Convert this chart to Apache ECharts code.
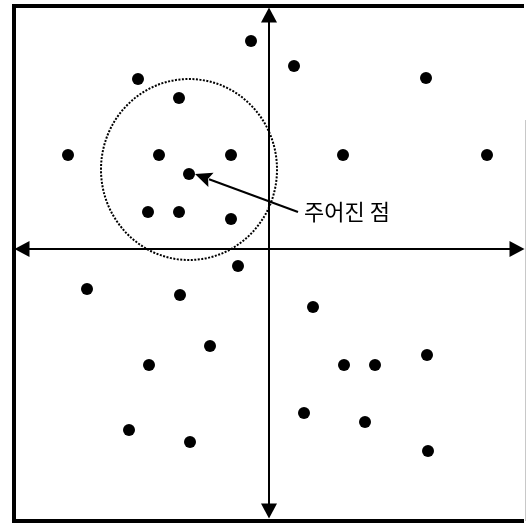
<!DOCTYPE html>
<html>
<head>
<meta charset="utf-8">
<script src="https://cdn.jsdelivr.net/npm/echarts@6/dist/echarts.min.js"></script>
<style>
  html, body { margin: 0; padding: 0; background: #fff; }
  #chart { width: 527px; height: 525px; }
</style>
</head>
<body>
<div id="chart"></div>
<script>
// points, origin where the axes cross, y up
const pointsX = [-18, 25, -131, 157, -90, -201, -110, -38, 74, 218, -80, -121, -90, -38,
  -31, -182, -89, 44, -59, -120, 75, 106, 158, 35, 96, -140, -79, 159];
const pointsY = [208, 183, 170, 171, 151, 94, 94, 94, 94, 94, 75, 37, 37, 30,
  -17, -40, -46, -58, -97, -116, -116, -116, -106, -164, -173, -181, -193, -202];

// dotted neighbourhood round the given point: centre x, centre y, radius x, radius y
const neighbourhood = [-80, 79.5, 88, 90.5];

// pointer from the label to the given point: from x, from y, to x, to y
const pointer = [29, 37, -74, 75];
const labelAt = [35, 37];
const labelText = '주어진 점';

const chart = echarts.init(document.getElementById('chart'));

const axisCommon = {
  type: 'value',
  axisLine: {
    onZero: true,
    symbol: ['triangle', 'triangle'],
    symbolSize: [16, 15],
    lineStyle: { color: '#000', width: 2 }
  },
  axisTick: { show: false },
  axisLabel: { show: false },
  splitLine: { show: false }
};

chart.setOption({
  animation: false,
  backgroundColor: '#fff',
  grid: { left: 22, right: 10, top: 15, bottom: 14 },
  xAxis: Object.assign({}, axisCommon, { min: -247, max: 248 }),
  yAxis: Object.assign({}, axisCommon, { min: -262, max: 234 }),
  graphic: [
    {
      type: 'polyline',
      silent: true,
      shape: { points: [[524, 6], [14, 6], [14, 521], [524, 521]] },
      style: { fill: null, stroke: '#000', lineWidth: 4 }
    },
    {
      type: 'line',
      silent: true,
      shape: { x1: 525.5, y1: 120, x2: 525.5, y2: 521 },
      style: { stroke: '#c8c8c8', lineWidth: 1 }
    }
  ],
  series: [
    {
      type: 'custom',
      silent: true,
      z: 1,
      data: [neighbourhood],
      renderItem: function (params, api) {
        const c = api.coord([api.value(0), api.value(1)]);
        const s = api.size([api.value(2), api.value(3)]);
        return {
          type: 'ellipse',
          shape: { cx: c[0], cy: c[1], rx: s[0], ry: s[1] },
          style: { fill: null, stroke: '#000', lineWidth: 2, lineDash: [2, 1.5] }
        };
      }
    },
    {
      type: 'scatter',
      z: 3,
      symbolSize: 12,
      itemStyle: { color: '#000', opacity: 1 },
      data: pointsX.map((x, i) => [x, pointsY[i]])
    },
    {
      // pointer line with a filled triangular head
      type: 'custom',
      silent: true,
      z: 4,
      data: [pointer],
      renderItem: function (params, api) {
        const a = api.coord([api.value(0), api.value(1)]);
        const b = api.coord([api.value(2), api.value(3)]);
        const dx = b[0] - a[0], dy = b[1] - a[1];
        const len = Math.sqrt(dx * dx + dy * dy);
        const ux = dx / len, uy = dy / len;
        const headLen = 17, headHalf = 7.5;
        const bx = b[0] - ux * headLen, by = b[1] - uy * headLen;
        return {
          type: 'group',
          children: [
            {
              type: 'line',
              shape: { x1: a[0], y1: a[1], x2: bx + ux * 2, y2: by + uy * 2 },
              style: { stroke: '#000', lineWidth: 2 }
            },
            {
              type: 'polygon',
              shape: {
                points: [
                  [b[0], b[1]],
                  [bx - uy * headHalf, by + ux * headHalf],
                  [bx + ux * 3, by + uy * 3],
                  [bx + uy * headHalf, by - ux * headHalf]
                ]
              },
              style: { fill: '#000' }
            }
          ]
        };
      }
    },
    {
      type: 'custom',
      silent: true,
      z: 5,
      data: [labelAt],
      renderItem: function (params, api) {
        const p = api.coord([api.value(0), api.value(1)]);
        return {
          type: 'text',
          x: p[0],
          y: p[1],
          style: {
            text: labelText,
            fill: '#000',
            fontSize: 22,
            fontFamily: '"Noto Sans CJK KR", sans-serif',
            align: 'left',
            verticalAlign: 'middle'
          }
        };
      }
    }
  ]
});
</script>
</body>
</html>
